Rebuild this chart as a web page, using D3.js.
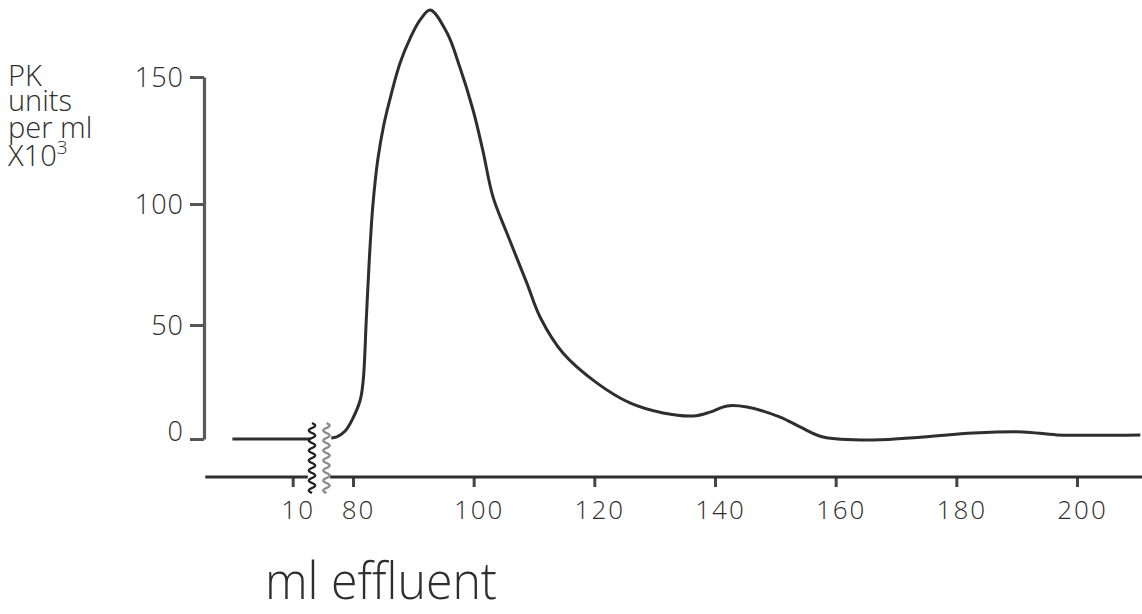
<!DOCTYPE html>
<html><head><meta charset="utf-8">
<script src="https://cdn.jsdelivr.net/npm/d3@7"></script>
<style>body{margin:0;background:#fff}svg{display:block}</style>
</head><body><svg id="c" width="1142" height="614"></svg>
<script>
// ---- data ----
const leftX = [0, 13];
const leftY = [0, 0];
const peakX = [76.4, 77.3, 78.7, 80.0, 81.2, 81.7, 82.2, 82.7, 83.3, 84.1, 85.1, 86.3, 87.8, 89.5, 91.1, 92.8, 95.6, 97.7, 99.9, 101.5, 103.2, 105.5, 108.8, 111.0, 114.8, 120.4, 125.9, 131.4, 136.4, 139.2, 142.0, 145.3, 150.8, 154.1, 157.9, 166.2, 174.5, 182.8, 191.1, 196.7, 210.5];
const peakY = [0.4, 0.9, 3.5, 9.2, 17.1, 25.9, 52.1, 76.9, 99.6, 117.3, 131.1, 142.9, 155.5, 165.4, 172.4, 176.4, 167.3, 153.9, 137.0, 121.3, 102.8, 88.0, 67.4, 53.3, 37.7, 24.6, 15.8, 11.4, 10.1, 11.8, 14.5, 14.0, 9.6, 5.3, 0.9, -0.4, 0.9, 2.6, 3.1, 1.8, 1.8];
const xTicksLeft = [10];
const xTicksRight = [80, 100, 120, 140, 160, 180, 200];
const yTicks = [0, 50, 100, 150];
const yTitleLines = ["PK", "units", "per ml", "X10"];
const yTitleSup = "3";
const xTitle = "ml effluent";

// ---- layout ----
const svg = d3.select("#c");
const ink = "#2e2e2e";
const font = "'Open Sans', 'DejaVu Sans', sans-serif";
const axisY = 477;

const xL = d3.scaleLinear().domain([0, 10]).range([232.4, 292.7]);
const xR = d3.scaleLinear().domain([80, 200]).range([353, 1077]);
const y = d3.scaleLinear().domain([0, 50, 100, 150]).range([439, 325, 204, 77]);

// y axis
const gy = svg.append("g").attr("transform", "translate(204,0)")
  .call(d3.axisLeft(y).tickValues(yTicks).tickSize(14).tickSizeOuter(0).tickPadding(6));
gy.select(".domain").attr("stroke", "#5a5a5a").attr("stroke-width", 3.2);
gy.selectAll(".tick line").attr("stroke", "#555").attr("stroke-width", 3);
gy.selectAll(".tick text").attr("font-family", font).attr("font-weight", 300)
  .attr("font-size", 27).attr("fill", ink).attr("letter-spacing", 1)
  .attr("dy", d => d === 0 ? "0.05em" : "0.35em").attr("x", -20);

// x axis (broken)
function xAxis(scale, ticks, d0, d1) {
  const g = svg.append("g").attr("transform", `translate(0,${axisY})`)
    .call(d3.axisBottom(scale).tickValues(ticks).tickSize(10).tickSizeOuter(0).tickPadding(14));
  g.select(".domain").remove();
  g.append("line").attr("x1", scale(d0)).attr("x2", scale(d1))
    .attr("stroke", ink).attr("stroke-width", 3.2);
  g.selectAll(".tick line").attr("stroke", "#444").attr("stroke-width", 3);
  g.selectAll(".tick text").attr("font-family", font).attr("font-weight", 300)
    .attr("font-size", 26).attr("fill", ink).attr("dx", 5).attr("letter-spacing", 2);
  return g;
}
xAxis(xL, xTicksLeft, -4.5, 12.5);
xAxis(xR, xTicksRight, 76.2, 211);

// curve
const line = d3.line().curve(d3.curveCatmullRom.alpha(0.5));
svg.append("path")
  .attr("d", line(leftX.map((v, i) => [xL(v), y(leftY[i])])))
  .attr("fill", "none").attr("stroke", ink).attr("stroke-width", 3);
svg.append("path")
  .attr("d", line(peakX.map((v, i) => [xR(v), y(peakY[i])])))
  .attr("fill", "none").attr("stroke", ink).attr("stroke-width", 3)
  .attr("stroke-linejoin", "round");

// break marks (decorative wavy lines)
function wavy(cx, color) {
  const pts = d3.range(0, 71, 1).map(t => [cx + 3.5 * Math.sin(t / 10 * 2 * Math.PI), 423 + t]);
  svg.append("path").attr("d", d3.line().curve(d3.curveBasis)(pts))
    .attr("fill", "none").attr("stroke", color).attr("stroke-width", 2.2);
}
wavy(xL(13.2), "#222");
wavy(xR(75.6), "#8a8a8a");

// y title
const baselines = [86, 111, 138, 166];
yTitleLines.forEach((t, i) => {
  const tx = svg.append("text").attr("x", 8).attr("y", baselines[i])
    .attr("font-family", font).attr("font-weight", 300)
    .attr("font-size", 29).attr("fill", ink).text(t);
  if (i === yTitleLines.length - 1) {
    tx.append("tspan").attr("font-size", 19).attr("dy", -12).text(yTitleSup);
  }
});

// x title
svg.append("text").attr("x", 265).attr("y", 599)
  .attr("font-family", font).attr("font-weight", 300).attr("font-size", 52)
  .attr("fill", ink).attr("textLength", 232).attr("lengthAdjust", "spacingAndGlyphs")
  .text(xTitle);
</script></body></html>
